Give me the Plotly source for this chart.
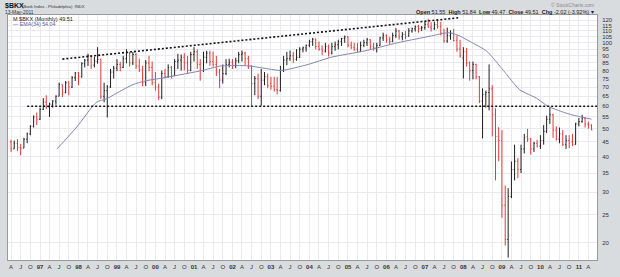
import plotly.graph_objects as go
import pandas as pd
import math

# ---------------- data ----------------
START_MONTH = "1996-04-01"   # first monthly bar

OPEN = [45, 42.5, 44.5, 43, 42.8, 46, 48, 51, 55,
        54, 58.5, 62, 59.5, 61, 62.5, 65, 71.5, 67, 72.5, 70, 75.5,
        78.5, 76, 84.5, 87, 90, 83.5, 86, 87.5, 65, 68, 70, 79,
        81.5, 84, 82, 88, 92, 85, 91, 83, 80.5, 72.5, 85, 82,
        72.5, 70, 64.5, 78, 76, 82, 77, 86, 87, 89, 85, 80,
        91, 93, 84, 80, 89, 92, 86, 84, 79, 74, 78, 84,
        85.5, 83, 86.5, 91, 92, 88, 83, 72, 75, 65, 74, 76,
        72, 70.5, 68.5, 68, 80, 87, 88, 90, 87.5, 89, 95, 96,
        98, 101, 103, 97, 95, 93.5, 97, 92, 97, 98.5, 101, 103.5,
        105, 98, 96.5, 95, 93.5, 98, 100, 102.5, 97, 96, 98, 104,
        106, 102.5, 101, 106, 110, 105, 107, 105.5, 110, 112, 114, 112,
        113, 116, 113.5, 112, 116, 114, 108, 101.5, 106, 108, 102, 95,
        88.5, 93, 85, 80, 84, 76, 62.5, 66, 67, 69, 56, 47,
        45.5, 27, 20.5, 29, 36, 38.5, 36, 42.5, 47, 46, 42.5, 44.5,
        43.5, 45.5, 49, 54, 56, 49.5, 46, 48, 44, 45.5, 45, 44,
        52, 53, 54.5, 52, 51.55]

HIGH = [45.8, 45.5, 46, 44.2, 46.5, 48.5, 51.5, 55.7, 57,
        59.3, 64, 65.5, 61.7, 63, 65.5, 72.5, 71.5, 73.5, 73.5, 76.5, 79,
        79, 85.5, 87.7, 91.5, 90.5, 89.5, 96.5, 88, 72.5, 71.1, 81, 83,
        87.7, 85.8, 90, 95, 93, 93, 92, 88, 83, 87, 90, 86,
        79, 72, 80, 81, 84, 83, 87.7, 91.5, 91, 92, 90, 93,
        96.5, 94.8, 87.7, 93, 93.8, 93.8, 93, 90, 81, 84, 87.7, 88,
        87.7, 88.7, 93, 94, 93, 90, 83.5, 76.5, 78, 81, 79, 78,
        76, 76, 76, 83, 90, 93, 94, 93, 95, 96.5, 97, 98.5,
        102.5, 104, 103.5, 101, 98, 100, 98.5, 100, 101, 102.5, 104, 106,
        105.5, 101, 100, 100, 101, 102.5, 104, 103, 100, 100, 105, 108.5,
        107, 105, 108.5, 112.5, 111, 109, 110, 112.5, 113, 115, 115.5, 114.5,
        118.5, 121.5, 118, 118.5, 120, 118.5, 112, 113, 110.5, 112, 106, 102.5,
        96.5, 96, 86, 86, 84.5, 76.5, 69.3, 68, 84, 71, 59, 50.7,
        49.5, 31.7, 31, 38.4, 44, 39.5, 44, 48, 50, 46.5, 45, 45.8,
        47.5, 51.5, 55.6, 59.5, 56.5, 51, 50.5, 49.5, 47.5, 47.5, 48, 52.5,
        54.5, 56, 55, 53, 51.84]

LOW = [41.5, 42.5, 41.8, 40.4, 42.8, 44.5, 47.5, 50.5, 51.5,
       53.7, 58.2, 58.7, 55, 59.3, 60.7, 65, 64.5, 66.5, 65.5, 69.5, 73.5,
       71, 75.5, 82, 83, 81, 82, 84.5, 63.5, 61.9, 54.8, 69.5, 75,
       79.5, 79.5, 81.5, 84.8, 82.5, 83.6, 81, 79, 70.5, 70.5, 79.5, 71,
       68, 63, 63.5, 75, 75.5, 75, 76.5, 81, 80, 80, 78, 79.5,
       86, 81, 73.7, 79, 84.7, 83, 82.5, 76.5, 69.3, 72, 77, 82,
       81, 81.5, 84.8, 86, 83.5, 81, 60.2, 65.5, 63.5, 60.2, 71, 69.3,
       68.5, 67.5, 66, 67.5, 79, 83.5, 86.5, 85, 86.5, 88.5, 92.5, 93,
       96.5, 97.5, 94.8, 93.8, 90.5, 92.5, 89.5, 91, 93.8, 94.8, 97.5, 100,
       96.5, 95, 93.8, 92.5, 93, 96.5, 97.5, 94.8, 93.8, 92.5, 97.5, 101.5,
       100, 98.5, 100.5, 104, 102.5, 102, 103, 105, 108.5, 109.5, 108.5, 110,
       111, 113, 109.5, 111, 112, 106, 100, 100, 102.5, 101, 93, 88.7,
       75, 82.5, 73.7, 74.5, 74.5, 61.5, 46.3, 59.3, 58, 47, 33, 38.5,
       24.4, 19.5, 17.7, 28.6, 33, 33.6, 35, 41, 45, 40.6, 41.5, 43,
       42.5, 44, 48.3, 52, 46.5, 45.5, 44.5, 43.5, 42.5, 42.8, 43.5, 44,
       51, 52.5, 50.5, 50, 49.47]

CLOSE = [42.5, 44.5, 43, 42.8, 46, 48, 51, 55, 54,
         58.5, 62, 59.5, 61, 62.5, 65, 71.5, 67, 72.5, 70, 75.5, 78.5,
         76, 84.5, 87, 90, 83.5, 86.5, 87.5, 65, 68, 70, 79, 81.5,
         84, 82, 88, 92, 85, 91, 83, 80.5, 72.5, 85, 82, 72.5,
         70, 64.5, 78, 76, 82, 77, 86, 87, 89, 85, 80, 91,
         93, 84, 80, 89, 92, 86, 84, 79, 74, 78, 84, 85.5,
         83, 86.5, 91, 92, 88, 83, 72, 75, 65, 74, 76, 71,
         70.5, 68.5, 68, 80, 87, 88, 90, 87.5, 89, 95, 96, 98,
         101, 103, 97, 95, 93.5, 97, 92, 97, 98.5, 101, 103.5, 105,
         98, 96.5, 95, 93.5, 98, 100, 102.5, 97, 96, 98, 104, 106,
         102.5, 101, 106, 110, 105, 107, 105.5, 110, 112, 114, 112, 113,
         116, 113.5, 112, 116, 114, 108, 101.5, 106, 108, 102, 95, 90,
         93, 85, 80, 84, 76, 62.5, 66, 67, 69, 56, 47, 45.5,
         27, 20.5, 29, 36, 38.5, 36, 42.5, 46.5, 46, 42.5, 44.5, 43.5,
         45.5, 49, 54, 56, 49.5, 46, 48, 44, 45.5, 44.5, 44, 52,
         53, 54.5, 52, 51.53, 49.51]

# EMA(34) overlay, read at points along the drawn curve
EMA_DATES = ["1997-06-10", "1997-12-15", "1998-06-20", "1998-09-25", "1999-01-28",
             "1999-06-01", "1999-10-07", "2000-02-10", "2001-02-20", "2001-09-25",
             "2002-06-03", "2002-12-10", "2003-04-10", "2003-12-20", "2004-07-25",
             "2005-06-10", "2006-04-15", "2007-02-20", "2007-07-01", "2007-09-01",
             "2007-12-01", "2008-03-05", "2008-08-12", "2009-01-15", "2009-06-18",
             "2009-11-25", "2010-03-12", "2010-10-01", "2011-02-10", "2011-05-01"]
EMA_VALUES = [42.5, 50.7, 61.9, 63.7, 67.6,
              71.4, 73.7, 75.0, 79.6, 83.1,
              83.0, 81.0, 80.0, 84.0, 89.0,
              93.7, 100.0, 105.5, 108.0, 108.3,
              105.5, 101.0, 93.3, 80.0, 68.5,
              64.0, 60.0, 56.3, 54.8, 54.04]

# hand-drawn trend lines (dotted)
TREND_DATES = ["1997-08-01", "2007-12-01"]
TREND_VALUES = [87.7, 122.5]
HLINE_DATES = ["1996-09-01", "2011-08-01"]
HLINE_VALUES = [60, 60]

Y_TICKS = [20, 25, 30, 35, 40, 45, 50, 55, 60, 65, 70, 75, 80, 85, 90, 95,
           100, 105, 110, 115, 120]

LAST_CHG = -2.02
LAST_CHG_PCT = -3.92

# ---------------- figure ----------------
dates = pd.date_range(START_MONTH, periods=len(CLOSE), freq="MS")

W, H = 620, 277
ML, MR, MT, MB = 7, 19, 15, 10
FONT = "Liberation Sans, Arial, sans-serif"
UP = "#1e1e1e"
DOWN = "#e23a3a"
EMA_COLOR = "#8585b5"

fig = go.Figure()

fig.add_trace(go.Scatter(x=EMA_DATES, y=EMA_VALUES, mode="lines",
                         line=dict(color=EMA_COLOR, width=1, shape="spline", smoothing=0.6),
                         hoverinfo="skip", showlegend=False))

fig.add_trace(go.Ohlc(x=dates, open=OPEN, high=HIGH, low=LOW, close=CLOSE,
                      increasing=dict(line=dict(color=UP, width=1)),
                      decreasing=dict(line=dict(color=DOWN, width=1)),
                      tickwidth=0.3, showlegend=False))

for xs, ys in ((TREND_DATES, TREND_VALUES), (HLINE_DATES, HLINE_VALUES)):
    fig.add_trace(go.Scatter(x=xs, y=ys, mode="lines",
                             line=dict(color="#111111", width=1.6, dash="2px,2px"),
                             hoverinfo="skip", showlegend=False))

# quarterly ticks: A J O <year>
qt = pd.date_range("1996-04-01", "2011-04-01", freq="QS-JAN")
qtext = []
for d in qt:
    if d.month == 1:
        qtext.append("<b>%02d</b>" % (d.year % 100))
    else:
        qtext.append({4: "A", 7: "J", 10: "O"}[d.month])

fig.update_layout(
    width=W, height=H,
    margin=dict(l=ML, r=MR, t=MT, b=MB, pad=0),
    paper_bgcolor="#d9dcdf",
    plot_bgcolor="#ffffff",
    font=dict(family=FONT, size=6, color="#333333"),
    showlegend=False,
    xaxis=dict(type="date", range=["1996-03-03", "2011-06-22"],
               tickvals=list(qt), ticktext=qtext, tickangle=0,
               showgrid=True, gridcolor="#e9e9ee", gridwidth=1,
               ticks="", tickfont=dict(size=6, color="#333333"),
               showline=True, linecolor="#9a9a9a", mirror=True,
               rangeslider=dict(visible=False), zeroline=False,
               ticklabelstandoff=1),
    yaxis=dict(type="log", side="right",
               range=[math.log10(17.37), math.log10(125.1)],
               tickvals=Y_TICKS, ticktext=[str(v) for v in Y_TICKS],
               showgrid=True, gridcolor="#e9e9ee", gridwidth=1,
               ticks="", tickfont=dict(size=6, color="#333333"),
               showline=True, linecolor="#9a9a9a", mirror=True,
               zeroline=False, ticklabelstandoff=3),
)

PW = W - ML - MR
PH = H - MT - MB


def px(x):
    return (x - ML) / PW


def py(y):
    return (H - MB - y) / PH


ann = []
ann.append(dict(x=px(2), y=py(5.5), text="<b>$BKX</b>", font=dict(size=7, color="#111111"),
                xanchor="left", yanchor="middle"))
ann.append(dict(x=px(19), y=py(6), text="(Bank Index - Philadelphia)  INDX",
                font=dict(size=4.2, color="#333333"), xanchor="left", yanchor="middle"))
ann.append(dict(x=px(2), y=py(12.3), text="13-May-2011", font=dict(size=4.9, color="#333333"),
                xanchor="left", yanchor="middle"))
ann.append(dict(x=px(600), y=py(5), text="\u00a9 StockCharts.com", font=dict(size=5, color="#8a8a8a"),
                xanchor="right", yanchor="middle"))
hdr = ("<b>Open</b> %.2f  <b>High</b> %.2f  <b>Low</b> %.2f  <b>Close</b> %.2f  <b>Chg</b> %.2f (%.2f%%) \u25be"
       % (OPEN[-1], HIGH[-1], LOW[-1], CLOSE[-1], LAST_CHG, LAST_CHG_PCT))
ann.append(dict(x=px(600), y=py(12), text=hdr, font=dict(size=5.5, color="#222222"),
                xanchor="right", yanchor="middle"))
ann.append(dict(x=px(10), y=py(18.8), text="M $BKX (Monthly) %.2f" % CLOSE[-1],
                font=dict(size=5.5, color="#222222"), xanchor="left", yanchor="middle"))
ann.append(dict(x=px(10), y=py(24.3), text="\u2014 EMA(34) %.2f" % EMA_VALUES[-1],
                font=dict(size=5.3, color="#5a5a9a"), xanchor="left", yanchor="middle"))
for a in ann:
    a.update(xref="paper", yref="paper", showarrow=False)
fig.update_layout(annotations=ann)

fig.write_html("out.html")
